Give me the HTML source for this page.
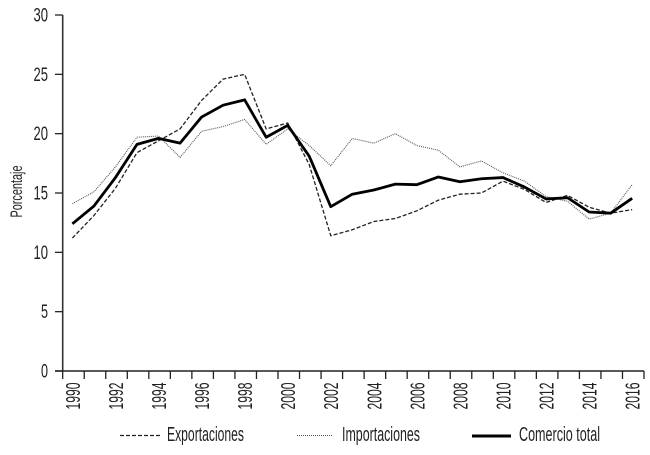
<!DOCTYPE html>
<html lang="es">
<head>
<meta charset="utf-8">
<title>Porcentaje 1990-2016</title>
<style>
html,body{margin:0;padding:0;background:#fff;}
svg{display:block;font-family:"Liberation Sans",sans-serif;}
text{fill:#222;}
</style>
</head>
<body>
<svg id="chart" width="650" height="455" viewBox="0 0 650 455" xmlns="http://www.w3.org/2000/svg">
<text transform="translate(22,191.5) rotate(-90)" text-anchor="middle" font-size="16.5" textLength="52" lengthAdjust="spacingAndGlyphs">Porcentaje</text>
<g>
<line x1="120" x2="160" y1="435.5" y2="435.5" stroke="#222" stroke-width="1.2" stroke-dasharray="4 2"/>
<text x="167" y="441" font-size="20" textLength="77" lengthAdjust="spacingAndGlyphs">Exportaciones</text>
<line x1="297" x2="333" y1="435.5" y2="435.5" stroke="#555" stroke-width="1" stroke-dasharray="1 1"/>
<text x="342" y="441" font-size="20" textLength="78" lengthAdjust="spacingAndGlyphs">Importaciones</text>
<line x1="472" x2="511" y1="436" y2="436" stroke="#000" stroke-width="3"/>
<text x="519" y="441" font-size="20" textLength="81" lengthAdjust="spacingAndGlyphs">Comercio total</text>
</g>
</svg>
<script>
const years = [1990,1991,1992,1993,1994,1995,1996,1997,1998,1999,2000,2001,2002,2003,2004,2005,2006,2007,2008,2009,2010,2011,2012,2013,2014,2015,2016];
const yTickLabels = [0,5,10,15,20,25,30];
const exportaciones = [11.2,13.1,15.4,18.4,19.4,20.4,22.8,24.6,25.0,20.4,20.9,17.4,11.4,11.9,12.6,12.85,13.5,14.4,14.9,15.0,16.0,15.3,14.2,14.8,13.8,13.3,13.6];
const importaciones = [14.1,15.1,17.2,19.7,19.8,18.0,20.2,20.6,21.2,19.1,20.4,19.0,17.3,19.6,19.2,20.0,19.0,18.6,17.2,17.7,16.7,16.0,14.7,14.3,12.8,13.3,15.7];
const comercioTotal = [12.4,13.9,16.3,19.1,19.6,19.2,21.4,22.4,22.85,19.7,20.7,18.1,13.85,14.9,15.25,15.75,15.7,16.35,15.95,16.2,16.3,15.5,14.5,14.6,13.4,13.3,14.55];

const svg = document.getElementById('chart');
const NS = 'http://www.w3.org/2000/svg';
const yMax = yTickLabels[yTickLabels.length - 1];
const step = 21.53;
const xAxisLeft = 62.7;
function xScale(i) { return xAxisLeft + step * (i + 0.45); }
function yScale(v) { return 371 - v * (356 / yMax); }
function make(tag, attrs) {
  const el = document.createElementNS(NS, tag);
  for (const k in attrs) el.setAttribute(k, attrs[k]);
  return el;
}

const axisLeft = xAxisLeft;
const axisRight = xAxisLeft + step * years.length;

const yAxis = make('line', {x1: axisLeft, x2: axisLeft, y1: yScale(yMax), y2: yScale(0), stroke: '#333', 'stroke-width': 1.6});


svg.appendChild(yAxis);

const xAxis = make('line', {x1: 55, x2: axisRight, y1: yScale(0), y2: yScale(0), stroke: '#222', 'stroke-width': 1.6});


svg.appendChild(xAxis);

yTickLabels.forEach(function (v) {
  const y = yScale(v);
  const tick = make('line', {x1: 55, x2: axisLeft, y1: y, y2: y, stroke: '#222', 'stroke-width': 1.3});
  
  
  svg.appendChild(tick);
  const label = make('text', {x: 48, y: y + 6.5, 'text-anchor': 'end', 'font-size': 19, textLength: String(v).length === 1 ? 7 : 14.5, lengthAdjust: 'spacingAndGlyphs'});
  
  
  label.textContent = v;
  svg.appendChild(label);
});

for (let i = 0; i <= years.length; i++) {
  const x = xAxisLeft + step * i;
  const tick = make('line', {x1: x, x2: x, y1: yScale(0), y2: yScale(0) + 8, stroke: '#222', 'stroke-width': 1.3});
  
  
  svg.appendChild(tick);
}

years.forEach(function (yr, i) {
  if (i % 2 !== 0) return;
  const x = xScale(i);
  const label = make('text', {transform: 'translate(' + (x + 7.5) + ',396) rotate(-90)', 'text-anchor': 'middle', 'font-size': 20, textLength: 27, lengthAdjust: 'spacingAndGlyphs'});
  
  
  label.textContent = yr;
  svg.appendChild(label);
});

function pathFor(values) {
  return values.map(function (v, i) {
    return (i ? 'L' : 'M') + xScale(i).toFixed(2) + ' ' + yScale(v).toFixed(2);
  }).join(' ');
}

const impLine = make('path', {d: pathFor(importaciones), fill: 'none', stroke: '#555', 'stroke-width': 1.1, 'stroke-dasharray': '1 1'});


svg.appendChild(impLine);

const expLine = make('path', {d: pathFor(exportaciones), fill: 'none', stroke: '#222', 'stroke-width': 1.3, 'stroke-dasharray': '4 2'});


svg.appendChild(expLine);

const totalLine = make('path', {d: pathFor(comercioTotal), fill: 'none', stroke: '#000', 'stroke-width': 2.8, 'stroke-linejoin': 'round'});


svg.appendChild(totalLine);
</script>
</body>
</html>
